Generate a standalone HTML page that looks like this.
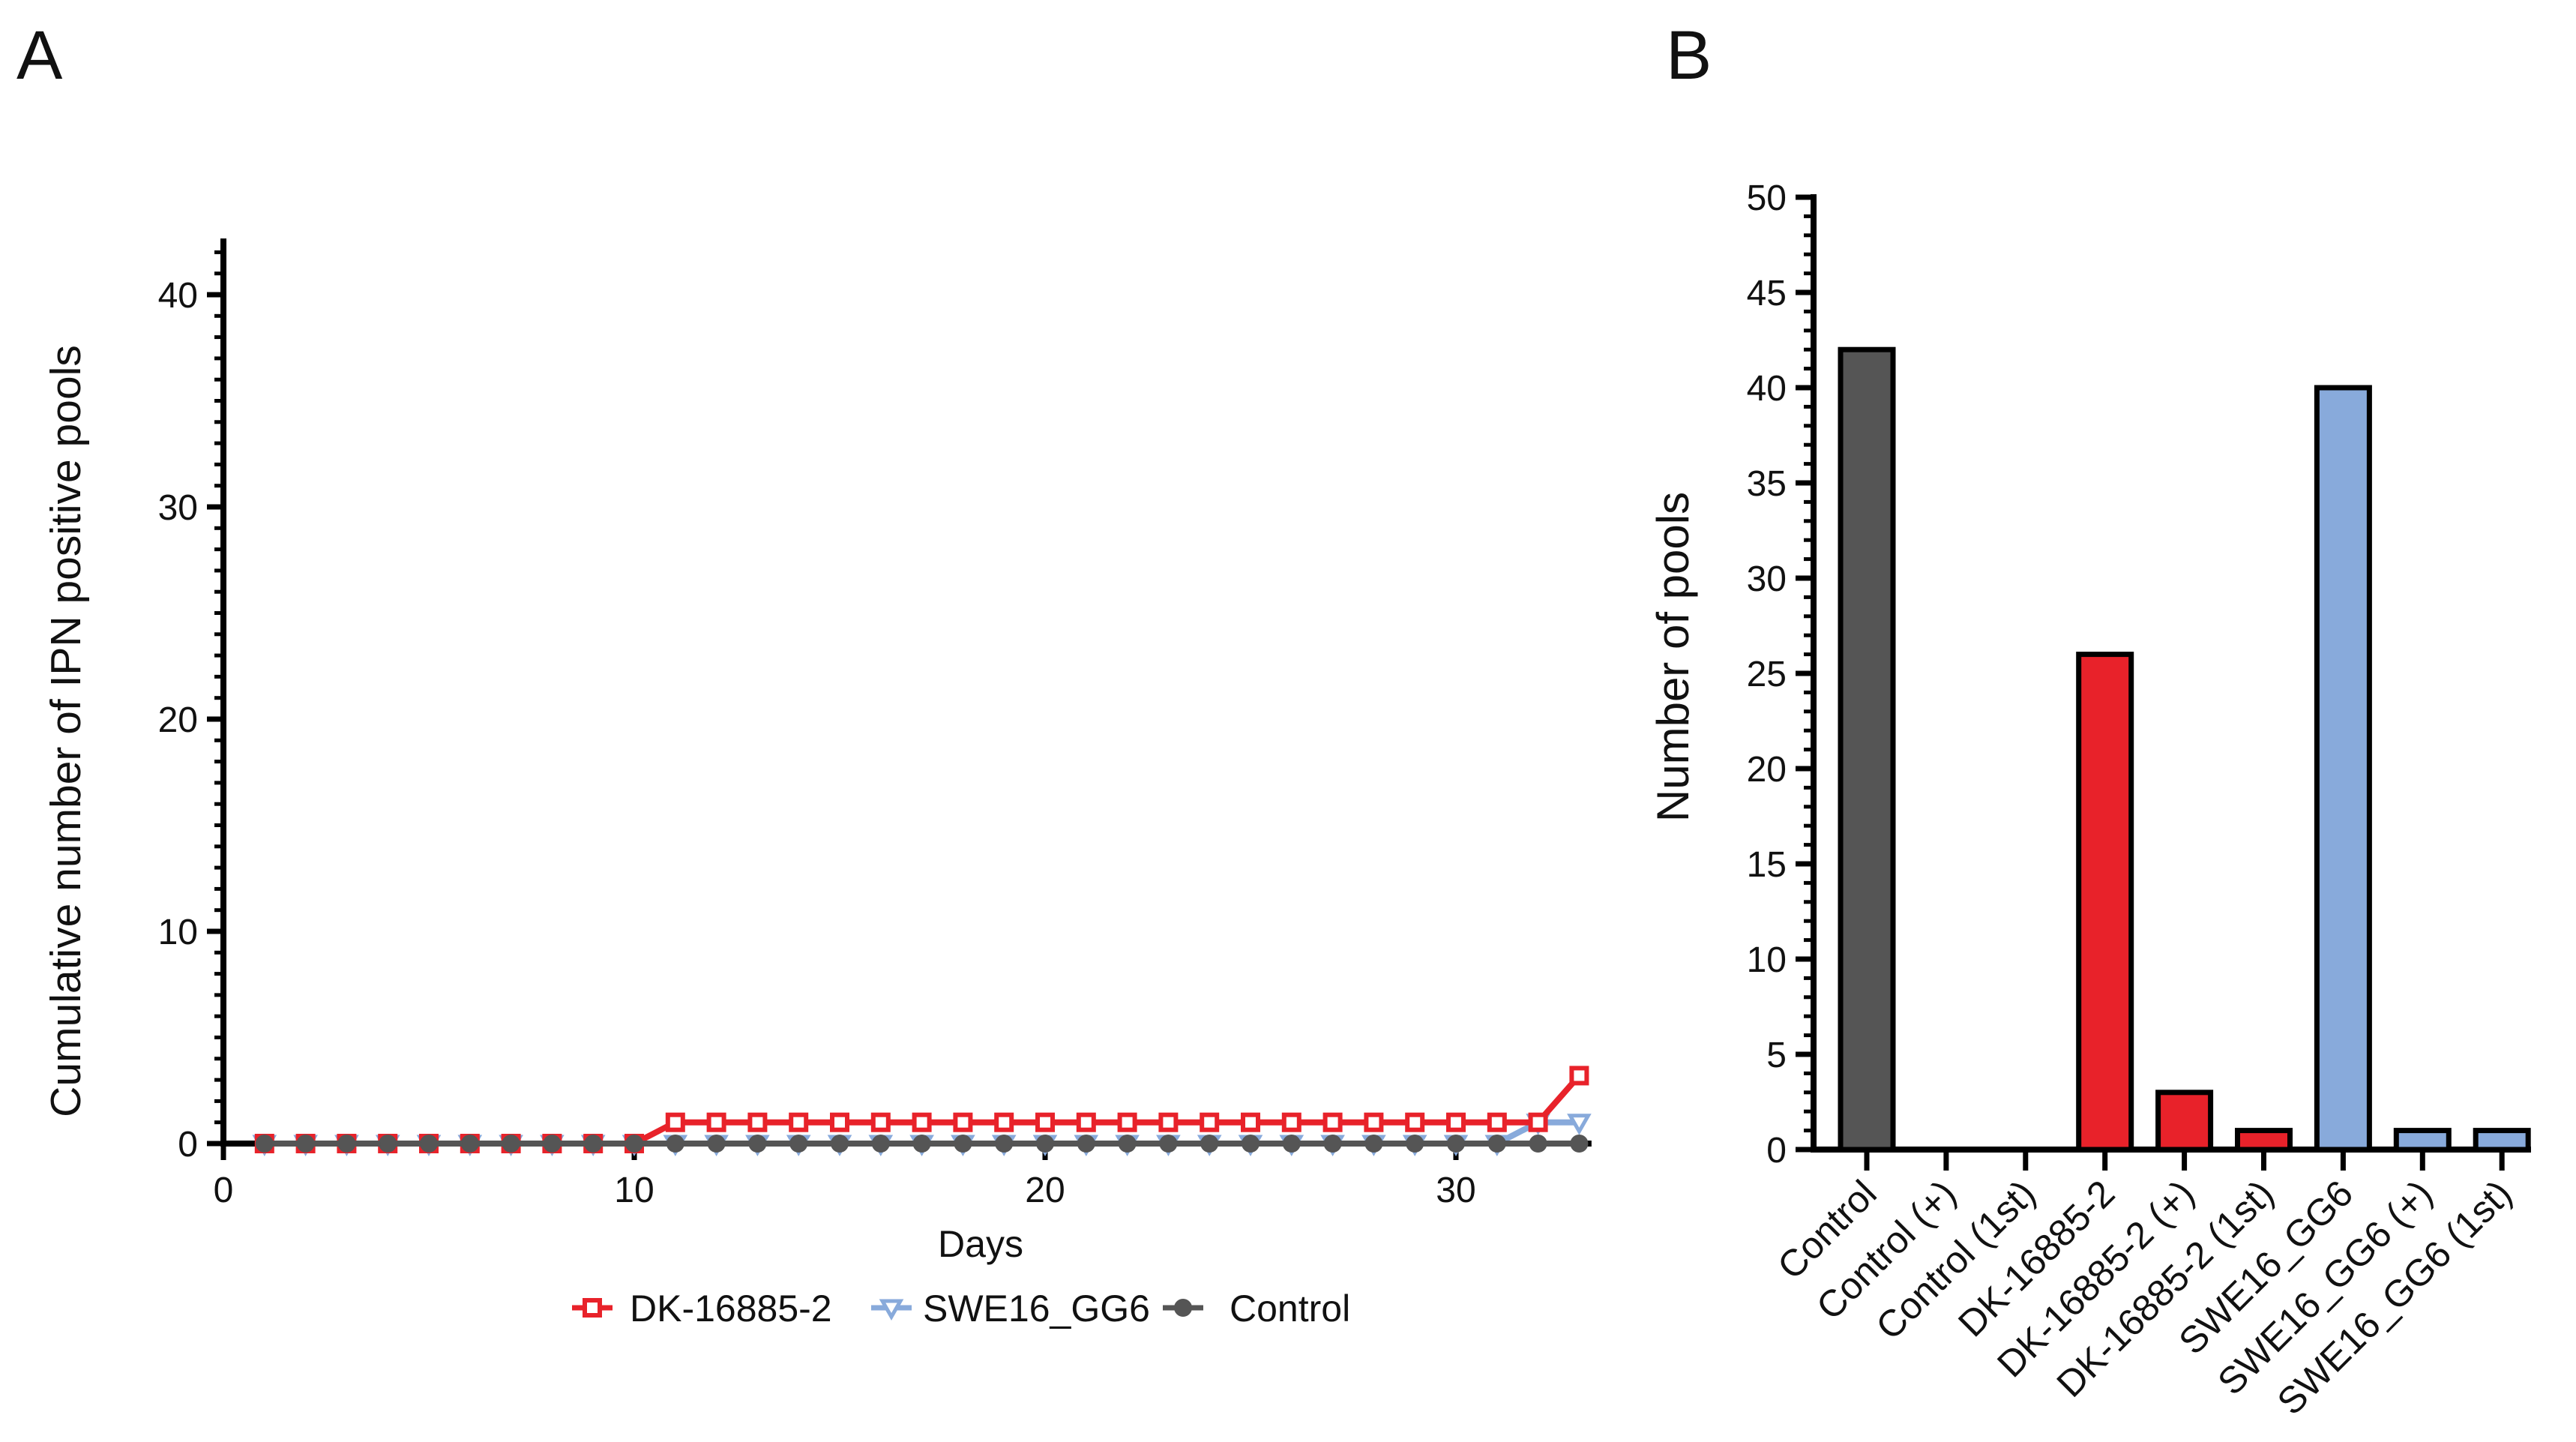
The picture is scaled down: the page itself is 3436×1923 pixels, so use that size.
<!DOCTYPE html>
<html><head><meta charset="utf-8"><style>
html,body{margin:0;padding:0;background:#fff}
svg{display:block}
text{font-family:"Liberation Sans",Arial,sans-serif;fill:#111}
</style></head><body>
<svg id="fig" width="3436" height="1923" viewBox="0 0 3436 1923" xmlns="http://www.w3.org/2000/svg">
<text x="22" y="105" font-size="92">A</text>
<text x="2222" y="105" font-size="92">B</text>
<g id="gA"></g>
<g id="gB"></g>
</svg>
<script>
const days = [1,2,3,4,5,6,7,8,9,10,11,12,13,14,15,16,17,18,19,20,21,22,23,24,25,26,27,28,29,30,31,32,33];
const dkValues = [0,0,0,0,0,0,0,0,0,0,1,1,1,1,1,1,1,1,1,1,1,1,1,1,1,1,1,1,1,1,1,1,3.2];
const sweValues = [0,0,0,0,0,0,0,0,0,0,0,0,0,0,0,0,0,0,0,0,0,0,0,0,0,0,0,0,0,0,0,1,1];
const ctrlValues = [0,0,0,0,0,0,0,0,0,0,0,0,0,0,0,0,0,0,0,0,0,0,0,0,0,0,0,0,0,0,0,0,0];
const aYTicks = [0,10,20,30,40];
const aXTicks = [0,10,20,30];

const barCategories = ["Control","Control (+)","Control (1st)","DK-16885-2","DK-16885-2 (+)","DK-16885-2 (1st)","SWE16_GG6","SWE16_GG6 (+)","SWE16_GG6 (1st)"];
const barValues = [42,0,0,26,3,1,40,1,1];
const barColors = ["#555555","#555555","#555555","#e8222a","#e8222a","#e8222a","#88aadb","#88aadb","#88aadb"];
const bYTicks = [0,5,10,15,20,25,30,35,40,45,50];

const NS="http://www.w3.org/2000/svg";
function mk(parent,tag,attrs){const e=document.createElementNS(NS,tag);for(const k in attrs)e.setAttribute(k,attrs[k]);parent.appendChild(e);return e;}

// Panel A
const gA=document.getElementById('gA');
const ax0=298, ay0=1525, aPerDay=54.8, aPerUnit=28.3, aTop=318;
const xA=d=>ax0+d*aPerDay, yA=v=>ay0-v*aPerUnit;
let el;
el=mk(gA,'line',{x1:ax0,y1:aTop,x2:ax0,y2:ay0+4,stroke:'#000','stroke-width':8});


el=mk(gA,'line',{x1:ax0-4,y1:ay0,x2:xA(33.3),y2:ay0,stroke:'#000','stroke-width':8});


for(let v=0;v<=42;v++){
  const maj=v%10===0;
  el=mk(gA,'line',{x1:ax0-(maj?22:12),y1:yA(v),x2:ax0,y2:yA(v),stroke:'#000','stroke-width':maj?7:5});
  
  
}
aYTicks.forEach(v=>{
  el=mk(gA,'text',{x:ax0-34,y:yA(v)+17,'font-size':48,'text-anchor':'end'});el.textContent=v;
  
  
});
aXTicks.forEach(v=>{
  el=mk(gA,'line',{x1:xA(v),y1:ay0,x2:xA(v),y2:ay0+22,stroke:'#000','stroke-width':7});
  
  
  el=mk(gA,'text',{x:xA(v),y:ay0+78,'font-size':48,'text-anchor':'middle'});el.textContent=v;
  
  
});
el=mk(gA,'text',{x:1308,y:1676,'font-size':50,'text-anchor':'middle'});el.textContent='Days';


el=mk(gA,'text',{x:0,y:0,'font-size':57,'text-anchor':'middle',transform:'translate(107,975) rotate(-90)'});el.textContent='Cumulative number of IPN positive pools';



function marker(g,type,cx,cy,color,name){
  let m;
  if(type==='sq') m=mk(g,'rect',{x:cx-10,y:cy-10,width:20,height:20,fill:'#fff',stroke:color,'stroke-width':6});
  else if(type==='tri') m=mk(g,'path',{d:`M${cx-12},${cy-9} L${cx+12},${cy-9} L${cx},${cy+12} Z`,fill:'#fff',stroke:color,'stroke-width':5});
  else m=mk(g,'circle',{cx:cx,cy:cy,r:11,fill:color,stroke:color,'stroke-width':2});
  
  
}
function series(vals,color,type,name){
  const pts=days.map((d,i)=>xA(d)+','+yA(vals[i])).join(' ');
  el=mk(gA,'polyline',{points:pts,fill:'none',stroke:color,'stroke-width':8});
  
  
  days.forEach((d,i)=>marker(gA,type,xA(d),yA(vals[i]),color,name+'-point'));
}
series(sweValues,'#88aadb','tri','swe16-gg6');
series(dkValues,'#e8222a','sq','dk-16885-2');
series(ctrlValues,'#555555','ci','control');
const legend=[["DK-16885-2",'#e8222a','sq',763,840],["SWE16_GG6",'#88aadb','tri',1162,1231],["Control",'#555555','ci',1551,1640]];
legend.forEach(l=>{
  const g=mk(gA,'g',{});
  
  
  mk(g,'line',{x1:l[3],y1:1744,x2:l[3]+54,y2:1744,stroke:l[1],'stroke-width':7});
  marker(g,l[2],l[3]+27,1744,l[1],'legend-marker');
  const t=mk(g,'text',{x:l[4],y:1762,'font-size':50});t.textContent=l[0];
});

// Panel B
const gB=document.getElementById('gB');
const bx0=2419, by0=1533, bPerUnit=25.4, bc0=2490, bStep=105.9, bW=70;
const yB=v=>by0-v*bPerUnit, xB=i=>bc0+i*bStep;
el=mk(gB,'line',{x1:bx0,y1:yB(50)-4,x2:bx0,y2:by0+4,stroke:'#000','stroke-width':8});


el=mk(gB,'line',{x1:bx0-4,y1:by0,x2:3376,y2:by0,stroke:'#000','stroke-width':8});


for(let v=0;v<=50;v++){
  const maj=v%5===0;
  el=mk(gB,'line',{x1:bx0-(maj?24:13),y1:yB(v),x2:bx0,y2:yB(v),stroke:'#000','stroke-width':maj?7:5});
  
  
}
bYTicks.forEach(v=>{
  el=mk(gB,'text',{x:bx0-36,y:yB(v)+17,'font-size':48,'text-anchor':'end'});el.textContent=v;
  
  
});
el=mk(gB,'text',{x:0,y:0,'font-size':60,'text-anchor':'middle',transform:'translate(2252,876) rotate(-90)'});el.textContent='Number of pools';


barCategories.forEach((c,i)=>{
  const v=barValues[i];
  if(v>0){
    el=mk(gB,'rect',{x:xB(i)-bW/2,y:yB(v),width:bW,height:by0-yB(v),fill:barColors[i],stroke:'#000','stroke-width':7});
    
    
  }
  el=mk(gB,'line',{x1:xB(i),y1:by0,x2:xB(i),y2:by0+28,stroke:'#000','stroke-width':7});
  
  
  el=mk(gB,'text',{x:0,y:0,'font-size':50,'text-anchor':'end',transform:`translate(${xB(i)+16},${by0+62}) rotate(-45)`});el.textContent=c;
  
  
});
</script>
</body></html>
